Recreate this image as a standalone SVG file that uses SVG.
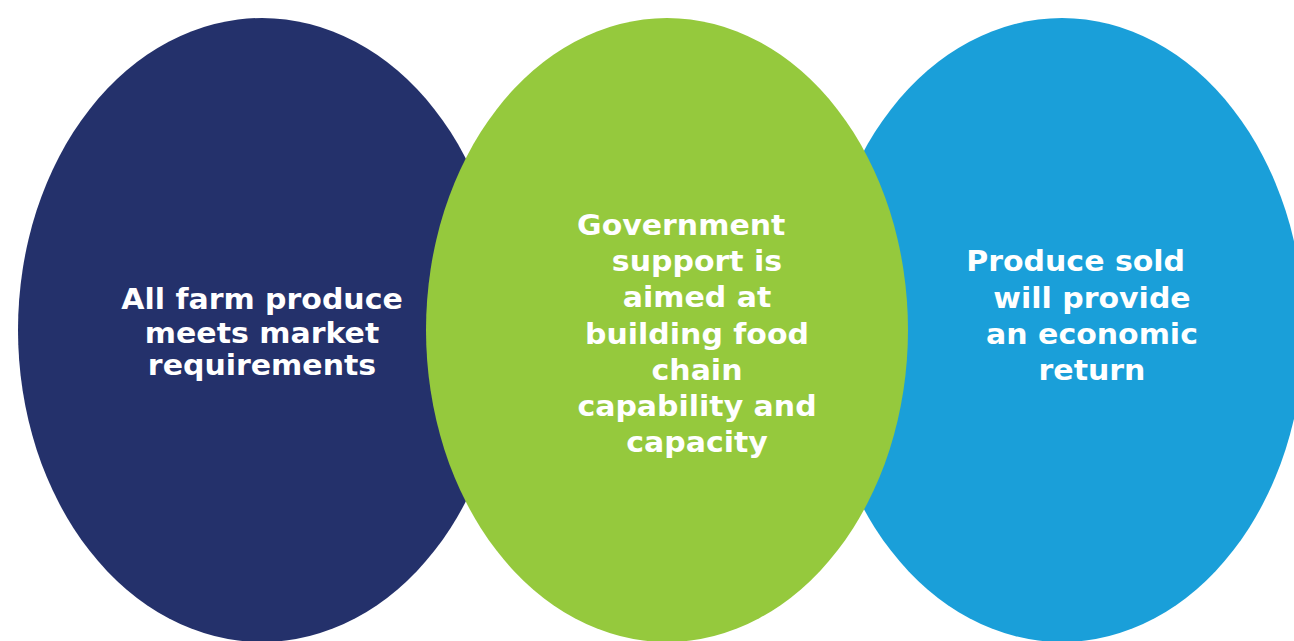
<svg xmlns="http://www.w3.org/2000/svg" width="1294" height="641" viewBox="0 0 1294 641">
<style>
.lbl{font-family:"DejaVu Sans","Liberation Sans",sans-serif;font-weight:bold;font-size:27.5px;fill:#ffffff;text-anchor:middle}
</style>
<rect x="0" y="0" width="1294" height="641" fill="#ffffff"/>
<g id="node-left">
<ellipse cx="262" cy="330" rx="244" ry="312" fill="#24316b"/>
<text class="lbl" transform="translate(262 0) scale(1.09 1)"><tspan x="0" y="309.5">All farm produce</tspan><tspan x="0" y="342.7">meets market</tspan><tspan x="0" y="375.5">requirements</tspan></text>
</g>
<g id="node-right">
<ellipse cx="1062" cy="330" rx="242" ry="312" fill="#1a9fd9"/>
<text class="lbl" transform="translate(1092 0) scale(1.09 1)"><tspan x="-15" y="271.5">Produce sold</tspan><tspan x="0" y="307.8">will provide</tspan><tspan x="0" y="344.1">an economic</tspan><tspan x="0" y="380.4">return</tspan></text>
</g>
<g id="node-center">
<ellipse cx="667" cy="330" rx="241" ry="312" fill="#95c93d"/>
<text class="lbl" transform="translate(697 0) scale(1.09 1)"><tspan x="-14.5" y="235">Government</tspan><tspan x="0" y="271.2">support is</tspan><tspan x="0" y="307.4">aimed at</tspan><tspan x="0" y="343.6">building food</tspan><tspan x="0" y="379.8">chain</tspan><tspan x="0" y="416">capability and</tspan><tspan x="0" y="452.2">capacity</tspan></text>
</g>
<g id="connectors"/>
</svg>
